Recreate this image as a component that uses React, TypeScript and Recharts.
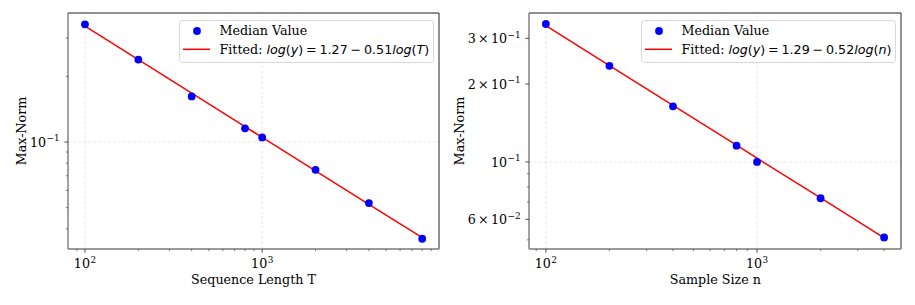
import React from 'react';
import { ComposedChart, Scatter, Line, XAxis, YAxis, ReferenceLine } from 'recharts';

// ---------- data ----------
const leftX = [100, 200, 400, 800, 1000, 2000, 4000, 8000];
const leftMedian = [0.347, 0.239, 0.162, 0.1156, 0.105, 0.0746, 0.0525, 0.036];
const leftFit = [0.34, 0.239, 0.1676, 0.1178, 0.105, 0.0738, 0.0518, 0.0364];

const rightX = [100, 200, 400, 800, 1000, 2000, 4000];
const rightMedian = [0.341, 0.235, 0.164, 0.1156, 0.1, 0.0724, 0.0511];
const rightFit = [0.336, 0.2356, 0.1653, 0.116, 0.1034, 0.0726, 0.0509];

const leftXTicks = [90, 100, 200, 300, 400, 500, 600, 700, 800, 900, 1000, 2000, 3000, 4000, 5000, 6000, 7000, 8000, 9000];
const rightXTicks = [90, 100, 200, 300, 400, 500, 600, 700, 800, 900, 1000, 2000, 3000, 4000];
const leftYTicks = [0.04, 0.05, 0.06, 0.07, 0.08, 0.09, 0.1, 0.2, 0.3];
const rightYTicks = [0.05, 0.06, 0.07, 0.08, 0.09, 0.1, 0.2, 0.3];

const xTickLabels: Record<number, [string, string]> = { 100: ['', '2'], 1000: ['', '3'] };
const leftYTickLabels: Record<number, [string, string]> = { 0.1: ['', '\u22121'] };
const rightYTickLabels: Record<number, [string, string]> = {
  0.06: ['6', '\u22122'],
  0.1: ['', '\u22121'],
  0.2: ['2', '\u22121'],
  0.3: ['3', '\u22121'],
};

const leftXDomain = [80.2, 9950];
const rightXDomain = [83.2, 4808];
const leftYDomain = [0.0323, 0.391];
const rightYDomain = [0.0461, 0.376];

const leftTitle = 'Sequence Length T';
const rightTitle = 'Sample Size n';
const yTitle = 'Max-Norm';

const SERIF = '"DejaVu Serif", serif';
const SANS = '"DejaVu Sans", sans-serif';
const FS = 12.7;
const SUP_FS = 8.9;

const makeRows = (xs: number[], med: number[], fit: number[]) =>
  xs.map((x, i) => ({ x, median: med[i], fit: fit[i] }));

const TickText = ({ x, y, anchor, lab }: { x: number; y: number; anchor: 'middle' | 'end'; lab: [string, string] }) => (
  <text x={x} y={y} textAnchor={anchor} fontFamily={SERIF} fontSize={FS} fill="#000">
    {lab[0] ? (
      <>
        <tspan>{lab[0]}</tspan>
        <tspan dx={2.2}>{'\u00d7'}</tspan>
        <tspan dx={2.2}>10</tspan>
      </>
    ) : (
      <tspan>10</tspan>
    )}
    <tspan dy={-5.2} dx={0.4} fontSize={SUP_FS}>{lab[1]}</tspan>
  </text>
);

const XTick = (props: any) => {
  const { x, y, payload, labels } = props;
  const lab = labels[payload.value];
  const major = !!lab;
  return (
    <g>
      <line x1={x} x2={x} y1={y} y2={y + (major ? 3.7 : 2.1)} stroke="#333" strokeWidth={major ? 0.85 : 0.6} />
      {major && <TickText x={x} y={y + 19.3} anchor="middle" lab={lab} />}
    </g>
  );
};

const YTick = (props: any) => {
  const { x, y, payload, labels } = props;
  const v = payload.value;
  const key = Object.keys(labels).find((k) => Math.abs(Number(k) - v) < 1e-9);
  const lab = key !== undefined ? labels[key] : null;
  const major = !!lab;
  return (
    <g>
      <line x1={x} x2={x - (major ? 3.7 : 2.1)} y1={y} y2={y} stroke="#333" strokeWidth={major ? 0.85 : 0.6} />
      {major && <TickText x={x - 8.4} y={y + 4.6} anchor="end" lab={lab} />}
    </g>
  );
};

type PanelProps = {
  width: number;
  yAxisWidth: number;
  marginRight: number;
  rows: { x: number; median: number; fit: number }[];
  xDomain: number[];
  yDomain: number[];
  xTicks: number[];
  yTicks: number[];
  yLabels: Record<number, [string, string]>;
  yGrid: number[];
};

const Dot = (p: any) => <circle cx={p.cx} cy={p.cy} r={3.9} fill="#0000ff" />;

const Panel = ({ width, yAxisWidth, marginRight, rows, xDomain, yDomain, xTicks, yTicks, yLabels, yGrid }: PanelProps) => (
  <ComposedChart width={width} height={305} data={rows} margin={{ top: 13, right: marginRight, bottom: 0, left: 0 }}>
    <XAxis
      dataKey="x"
      type="number"
      scale="log"
      domain={xDomain}
      allowDataOverflow
      ticks={xTicks}
      interval={0}
      tickSize={0}
      tickMargin={0}
      height={56}
      axisLine={{ stroke: '#7a7a7a', strokeWidth: 1.4 }}
      tickLine={false}
      tick={(p: any) => <XTick {...p} labels={xTickLabels} />}
    />
    <YAxis
      type="number"
      scale="log"
      domain={yDomain}
      allowDataOverflow
      ticks={yTicks}
      interval={0}
      tickSize={0}
      tickMargin={0}
      width={yAxisWidth}
      axisLine={{ stroke: '#7a7a7a', strokeWidth: 1.4 }}
      tickLine={false}
      tick={(p: any) => <YTick {...p} labels={yLabels} />}
    />
    <ReferenceLine x={100} stroke="#e2e2e2" strokeWidth={0.8} strokeDasharray="3 2" ifOverflow="visible" />
    <ReferenceLine x={1000} stroke="#e2e2e2" strokeWidth={0.8} strokeDasharray="3 2" ifOverflow="visible" />
    {yGrid.map((g) => (
      <ReferenceLine key={g} y={g} stroke="#e2e2e2" strokeWidth={0.8} strokeDasharray="3 2" ifOverflow="visible" />
    ))}
    <ReferenceLine y={yDomain[1]} stroke="#222" strokeWidth={1} ifOverflow="visible" />
    <ReferenceLine x={xDomain[1]} stroke="#222" strokeWidth={1} ifOverflow="visible" />
    <Scatter dataKey="median" shape={Dot} isAnimationActive={false} />
    <Line dataKey="fit" type="linear" stroke="#ff0000" strokeWidth={1.5} dot={false} activeDot={false} isAnimationActive={false} />
  </ComposedChart>
);

const SP = 2.8;

const LegendBox = ({ left, varName, a, b }: { left: number; varName: string; a: string; b: string }) => {
  const tx = left + 40.5;
  return (
    <g>
      <rect x={left + 0.5} y={20.5} width={254} height={42} rx={3} fill="#fff" fillOpacity={0.8} stroke="#d4d4d4" strokeWidth={0.9} />
      <circle cx={left + 18} cy={31} r={3.9} fill="#0000ff" />
      <line x1={left + 4} x2={left + 31} y1={49.3} y2={49.3} stroke="#ff0000" strokeWidth={1.5} />
      <text x={tx} y={35} fontFamily={SERIF} fontSize={FS} fill="#000">Median Value</text>
      <text x={tx} y={53.6} fontFamily={SERIF} fontSize={FS} fill="#000">
        Fitted:{' '}
        <tspan fontFamily={SANS} fontStyle="italic">log</tspan>
        <tspan fontFamily={SANS}>(</tspan>
        <tspan fontFamily={SANS} fontStyle="italic">y</tspan>
        <tspan fontFamily={SANS}>)</tspan>
        <tspan fontFamily={SANS} dx={SP}>=</tspan>
        <tspan fontFamily={SANS} dx={SP}>{a}</tspan>
        <tspan fontFamily={SANS} dx={SP}>{'\u2212'}</tspan>
        <tspan fontFamily={SANS} dx={SP}>{b}</tspan>
        <tspan fontFamily={SANS} fontStyle="italic">log</tspan>
        <tspan fontFamily={SANS}>(</tspan>
        <tspan fontFamily={SANS} fontStyle="italic">{varName}</tspan>
        <tspan fontFamily={SANS}>)</tspan>
      </text>
    </g>
  );
};

export default function App() {
  const leftRows = makeRows(leftX, leftMedian, leftFit);
  const rightRows = makeRows(rightX, rightMedian, rightFit);
  return (
    <div style={{ position: 'absolute', left: 0, top: 0, width: 915, height: 305, background: '#fff', overflow: 'hidden' }}>
      <div style={{ position: 'absolute', left: 0, top: 0 }}>
        <Panel
          width={457}
          yAxisWidth={68}
          marginRight={18}
          rows={leftRows}
          xDomain={leftXDomain}
          yDomain={leftYDomain}
          xTicks={leftXTicks}
          yTicks={leftYTicks}
          yLabels={leftYTickLabels}
          yGrid={[0.1]}
        />
      </div>
      <div style={{ position: 'absolute', left: 457, top: 0 }}>
        <Panel
          width={458}
          yAxisWidth={72}
          marginRight={14}
          rows={rightRows}
          xDomain={rightXDomain}
          yDomain={rightYDomain}
          xTicks={rightXTicks}
          yTicks={rightYTicks}
          yLabels={rightYTickLabels}
          yGrid={[0.1]}
        />
      </div>
      <svg width={915} height={305} style={{ position: 'absolute', left: 0, top: 0, pointerEvents: 'none' }}>
        <text x={253.5} y={283.5} textAnchor="middle" fontFamily={SERIF} fontSize={FS} fill="#000">{leftTitle}</text>
        <text x={715.3} y={283.5} textAnchor="middle" fontFamily={SERIF} fontSize={FS} fill="#000">{rightTitle}</text>
        <text transform="translate(25.7,131) rotate(-90)" textAnchor="middle" fontFamily={SERIF} fontSize={FS} fill="#000">{yTitle}</text>
        <text transform="translate(464.3,131) rotate(-90)" textAnchor="middle" fontFamily={SERIF} fontSize={FS} fill="#000">{yTitle}</text>
        <LegendBox left={179} varName="T" a="1.27" b="0.51" />
        <LegendBox left={641} varName="n" a="1.29" b="0.52" />
      </svg>
    </div>
  );
}
